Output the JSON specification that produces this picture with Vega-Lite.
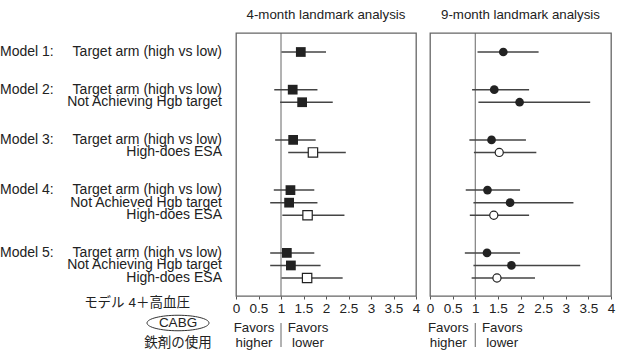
{
  "$schema": "https://vega.github.io/schema/vega-lite/v6.json",
  "background": "white",
  "padding": {"left": 0, "top": 7, "right": 0, "bottom": 0},
  "bounds": "flush",
  "spacing": 14,
  "config": {
    "font": "Liberation Sans, Noto Sans CJK JP",
    "view": {"stroke": null},
    "title": {"fontSize": 13.3, "fontWeight": "normal", "color": "#222", "offset": 11, "font": "Liberation Sans, Noto Sans CJK JP"},
    "text": {"font": "Liberation Sans, Noto Sans CJK JP", "fontSize": 14, "color": "#222"},
    "axisX": {"format": "~g", "domain": false, "ticks": true, "tickSize": 3, "tickColor": "#555", "tickWidth": 1, "labelFontSize": 13.5, "labelColor": "#222", "labelPadding": 2, "labelFlush": false, "labelOverlap": false, "grid": false}
  },
  "datasets": {
    "labels": [
      {"row": "m1a", "model": "Model 1:", "term": "Target arm (high vs low)"},
      {"row": "m2a", "model": "Model 2:", "term": "Target arm (high vs low)"},
      {"row": "m2b", "model": "", "term": "Not Achieving Hgb target"},
      {"row": "m3a", "model": "Model 3:", "term": "Target arm (high vs low)"},
      {"row": "m3b", "model": "", "term": "High-does ESA"},
      {"row": "m4a", "model": "Model 4:", "term": "Target arm (high vs low)"},
      {"row": "m4b", "model": "", "term": "Not Achieved Hgb target"},
      {"row": "m4c", "model": "", "term": "High-does ESA"},
      {"row": "m5a", "model": "Model 5:", "term": "Target arm (high vs low)"},
      {"row": "m5b", "model": "", "term": "Not Achieving Hgb target"},
      {"row": "m5c", "model": "", "term": "High-does ESA"}
    ],
    "notes": [
      {"line": "n1", "anchor": "left", "text": "モデル 4＋高血圧", "boxed": false},
      {"line": "n2", "anchor": "mid", "text": "CABG", "boxed": true},
      {"line": "n3", "anchor": "mid", "text": "鉄剤の使用", "boxed": false}
    ],
    "estimates": [
      {"landmark": "4-month", "row": "m1a", "kind": "target", "hr": 1.44, "lo": 1.01, "hi": 2.0},
      {"landmark": "4-month", "row": "m2a", "kind": "target", "hr": 1.26, "lo": 0.85, "hi": 1.81},
      {"landmark": "4-month", "row": "m2b", "kind": "hgb", "hr": 1.47, "lo": 0.98, "hi": 2.15},
      {"landmark": "4-month", "row": "m3a", "kind": "target", "hr": 1.27, "lo": 0.87, "hi": 1.77},
      {"landmark": "4-month", "row": "m3b", "kind": "esa", "hr": 1.71, "lo": 1.16, "hi": 2.44},
      {"landmark": "4-month", "row": "m4a", "kind": "target", "hr": 1.21, "lo": 0.84, "hi": 1.74},
      {"landmark": "4-month", "row": "m4b", "kind": "hgb", "hr": 1.18, "lo": 0.76, "hi": 1.81},
      {"landmark": "4-month", "row": "m4c", "kind": "esa", "hr": 1.59, "lo": 1.03, "hi": 2.41},
      {"landmark": "4-month", "row": "m5a", "kind": "target", "hr": 1.13, "lo": 0.76, "hi": 1.74},
      {"landmark": "4-month", "row": "m5b", "kind": "hgb", "hr": 1.22, "lo": 0.76, "hi": 1.88},
      {"landmark": "4-month", "row": "m5c", "kind": "esa", "hr": 1.58, "lo": 1.01, "hi": 2.37},
      {"landmark": "9-month", "row": "m1a", "kind": "target", "hr": 1.62, "lo": 1.05, "hi": 2.4},
      {"landmark": "9-month", "row": "m2a", "kind": "target", "hr": 1.42, "lo": 0.93, "hi": 2.19},
      {"landmark": "9-month", "row": "m2b", "kind": "hgb", "hr": 1.98, "lo": 1.07, "hi": 3.54},
      {"landmark": "9-month", "row": "m3a", "kind": "target", "hr": 1.36, "lo": 0.87, "hi": 2.12},
      {"landmark": "9-month", "row": "m3b", "kind": "esa", "hr": 1.53, "lo": 0.97, "hi": 2.35},
      {"landmark": "9-month", "row": "m4a", "kind": "target", "hr": 1.27, "lo": 0.79, "hi": 1.99},
      {"landmark": "9-month", "row": "m4b", "kind": "hgb", "hr": 1.77, "lo": 0.96, "hi": 3.17},
      {"landmark": "9-month", "row": "m4c", "kind": "esa", "hr": 1.41, "lo": 0.88, "hi": 2.19},
      {"landmark": "9-month", "row": "m5a", "kind": "target", "hr": 1.26, "lo": 0.77, "hi": 1.99},
      {"landmark": "9-month", "row": "m5b", "kind": "hgb", "hr": 1.8, "lo": 0.96, "hi": 3.32},
      {"landmark": "9-month", "row": "m5c", "kind": "esa", "hr": 1.48, "lo": 0.92, "hi": 2.32}
    ],
    "reference": [{"hr": 1}],
    "favors": [
      {"side": "higher", "line": "top", "text": "Favors"},
      {"side": "higher", "line": "bottom", "text": "higher"},
      {"side": "lower", "line": "top", "text": "Favors"},
      {"side": "lower", "line": "bottom", "text": "lower"}
    ]
  },
  "hconcat": [
    {
      "width": 222,
      "height": 263,
      "layer": [
        {
          "data": {"name": "labels"},
          "encoding": {
            "y": {"field": "row", "type": "nominal", "axis": null,
              "scale": {"type": "point", "padding": 0, "range": [19, 245],
                "domain": ["m1a", "g1a", "g1b", "m2a", "m2b", "g2a", "g2b", "m3a", "m3b", "g3a", "g3b", "m4a", "m4b", "m4c", "g4a", "g4b", "m5a", "m5b", "m5c"]}}
          },
          "layer": [
            {
              "transform": [{"filter": "datum.model != ''"}],
              "mark": {"type": "text", "align": "left", "baseline": "middle", "fontSize": 14},
              "encoding": {
                "x": {"datum": "model", "type": "nominal", "axis": null,
                  "scale": {"type": "point", "domain": ["model", "term"], "range": [0, 222], "padding": 0}},
                "text": {"field": "model"}
              }
            },
            {
              "mark": {"type": "text", "align": "right", "baseline": "middle", "fontSize": 14},
              "encoding": {
                "x": {"datum": "term", "type": "nominal", "axis": null,
                  "scale": {"type": "point", "domain": ["model", "term"], "range": [0, 222], "padding": 0}},
                "text": {"field": "term"}
              }
            }
          ]
        },
        {
          "data": {"name": "notes"},
          "encoding": {
            "y": {"field": "line", "type": "nominal", "axis": null,
              "scale": {"type": "point", "domain": ["n1", "n2", "n3"], "range": [270, 310], "padding": 0}},
            "x": {"field": "anchor", "type": "nominal", "axis": null,
              "scale": {"type": "point", "domain": ["left", "mid"], "range": [137, 178], "padding": 0}}
          },
          "layer": [
            {
              "transform": [{"filter": "datum.boxed"}],
              "mark": {"type": "point", "shape": "M-1,0A1,0.25,0,1,1,1,0A1,0.25,0,1,1,-1,0Z", "size": 3844, "filled": false, "stroke": "#333", "strokeWidth": 1, "opacity": 1}
            },
            {
              "mark": {"type": "text", "align": "center", "baseline": "middle", "fontSize": 13.5},
              "encoding": {"text": {"field": "text"}}
            }
          ]
        }
      ],
      "resolve": {"scale": {"x": "independent", "y": "independent"}}
    },
    {
      "width": 180,
      "height": 263,
      "view": {"stroke": "#666", "strokeWidth": 1.3},
      "title": {"text": "4-month landmark analysis"},
      "layer": [
        {
          "data": {"name": "reference"},
          "mark": {"type": "rule", "color": "#666", "strokeWidth": 1},
          "encoding": {
            "x": {"field": "hr", "type": "quantitative", "title": null,
              "axis": {"values": [0, 0.5, 1, 1.5, 2, 2.5, 3, 3.5, 4]},
              "scale": {"domain": [0, 4], "nice": false, "zero": false}}
          }
        },
        {
          "data": {"name": "estimates"},
          "transform": [{"filter": "datum.landmark == '4-month'"}],
          "encoding": {
            "y": {"field": "row", "type": "nominal", "axis": null,
              "scale": {"type": "point", "padding": 0, "range": [19, 245],
                "domain": ["m1a", "g1a", "g1b", "m2a", "m2b", "g2a", "g2b", "m3a", "m3b", "g3a", "g3b", "m4a", "m4b", "m4c", "g4a", "g4b", "m5a", "m5b", "m5c"]}}
          },
          "layer": [
            {
              "mark": {"type": "rule", "color": "#444", "strokeWidth": 1.5},
              "encoding": {"x": {"field": "lo", "type": "quantitative", "title": null, "axis": {"values": [0, 0.5, 1, 1.5, 2, 2.5, 3, 3.5, 4]}}, "x2": {"field": "hi", "title": null}}
            },
            {
              "transform": [{"filter": "datum.kind != 'esa'"}],
              "mark": {"type": "point", "shape": "square", "filled": true, "color": "#222", "size": 95, "opacity": 1},
              "encoding": {"x": {"field": "hr", "type": "quantitative", "title": null, "axis": {"values": [0, 0.5, 1, 1.5, 2, 2.5, 3, 3.5, 4]}}}
            },
            {
              "transform": [{"filter": "datum.kind == 'esa'"}],
              "mark": {"type": "point", "shape": "square", "filled": true, "fill": "white", "stroke": "#222", "strokeWidth": 1.2, "size": 88, "opacity": 1},
              "encoding": {"x": {"field": "hr", "type": "quantitative", "title": null, "axis": {"values": [0, 0.5, 1, 1.5, 2, 2.5, 3, 3.5, 4]}}}
            }
          ]
        },
        {
          "data": {"name": "favors"},
          "encoding": {
            "y": {"field": "line", "type": "nominal", "axis": null,
              "scale": {"type": "point", "domain": ["top", "bottom"], "range": [294.5, 309.5], "padding": 0}}
          },
          "layer": [
            {
              "transform": [{"filter": "datum.side == 'higher' && datum.line == 'top'"}],
              "mark": {"type": "rule", "color": "#666", "strokeWidth": 1, "yOffset": -4.5, "y2Offset": 4.5},
              "encoding": {"x": {"datum": 1, "type": "quantitative", "title": null, "axis": {"values": [0, 0.5, 1, 1.5, 2, 2.5, 3, 3.5, 4]}}, "y2": {"datum": "bottom"}}
            },
            {
              "transform": [{"filter": "datum.side == 'higher'"}],
              "mark": {"type": "text", "align": "center", "baseline": "middle", "fontSize": 13.3, "dx": -27},
              "encoding": {"x": {"datum": 1, "type": "quantitative", "title": null, "axis": {"values": [0, 0.5, 1, 1.5, 2, 2.5, 3, 3.5, 4]}}, "text": {"field": "text"}}
            },
            {
              "transform": [{"filter": "datum.side == 'lower'"}],
              "mark": {"type": "text", "align": "center", "baseline": "middle", "fontSize": 13.3, "dx": 27},
              "encoding": {"x": {"datum": 1, "type": "quantitative", "title": null, "axis": {"values": [0, 0.5, 1, 1.5, 2, 2.5, 3, 3.5, 4]}}, "text": {"field": "text"}}
            }
          ]
        }
      ],
      "resolve": {"scale": {"y": "independent"}}
    },
    {
      "width": 181,
      "height": 263,
      "view": {"stroke": "#666", "strokeWidth": 1.3},
      "title": {"text": "9-month landmark analysis"},
      "layer": [
        {
          "data": {"name": "reference"},
          "mark": {"type": "rule", "color": "#666", "strokeWidth": 1},
          "encoding": {
            "x": {"field": "hr", "type": "quantitative", "title": null,
              "axis": {"values": [0, 0.5, 1, 1.5, 2, 2.5, 3, 3.5, 4]},
              "scale": {"domain": [0, 4], "nice": false, "zero": false}}
          }
        },
        {
          "data": {"name": "estimates"},
          "transform": [{"filter": "datum.landmark == '9-month'"}],
          "encoding": {
            "y": {"field": "row", "type": "nominal", "axis": null,
              "scale": {"type": "point", "padding": 0, "range": [19, 245],
                "domain": ["m1a", "g1a", "g1b", "m2a", "m2b", "g2a", "g2b", "m3a", "m3b", "g3a", "g3b", "m4a", "m4b", "m4c", "g4a", "g4b", "m5a", "m5b", "m5c"]}}
          },
          "layer": [
            {
              "mark": {"type": "rule", "color": "#444", "strokeWidth": 1.5},
              "encoding": {"x": {"field": "lo", "type": "quantitative", "title": null, "axis": {"values": [0, 0.5, 1, 1.5, 2, 2.5, 3, 3.5, 4]}}, "x2": {"field": "hi", "title": null}}
            },
            {
              "transform": [{"filter": "datum.kind != 'esa'"}],
              "mark": {"type": "point", "shape": "circle", "filled": true, "color": "#222", "size": 76, "opacity": 1},
              "encoding": {"x": {"field": "hr", "type": "quantitative", "title": null, "axis": {"values": [0, 0.5, 1, 1.5, 2, 2.5, 3, 3.5, 4]}}}
            },
            {
              "transform": [{"filter": "datum.kind == 'esa'"}],
              "mark": {"type": "point", "shape": "circle", "filled": true, "fill": "white", "stroke": "#222", "strokeWidth": 1.2, "size": 66, "opacity": 1},
              "encoding": {"x": {"field": "hr", "type": "quantitative", "title": null, "axis": {"values": [0, 0.5, 1, 1.5, 2, 2.5, 3, 3.5, 4]}}}
            }
          ]
        },
        {
          "data": {"name": "favors"},
          "encoding": {
            "y": {"field": "line", "type": "nominal", "axis": null,
              "scale": {"type": "point", "domain": ["top", "bottom"], "range": [294.5, 309.5], "padding": 0}}
          },
          "layer": [
            {
              "transform": [{"filter": "datum.side == 'higher' && datum.line == 'top'"}],
              "mark": {"type": "rule", "color": "#666", "strokeWidth": 1, "yOffset": -4.5, "y2Offset": 4.5},
              "encoding": {"x": {"datum": 1, "type": "quantitative", "title": null, "axis": {"values": [0, 0.5, 1, 1.5, 2, 2.5, 3, 3.5, 4]}}, "y2": {"datum": "bottom"}}
            },
            {
              "transform": [{"filter": "datum.side == 'higher'"}],
              "mark": {"type": "text", "align": "center", "baseline": "middle", "fontSize": 13.3, "dx": -27},
              "encoding": {"x": {"datum": 1, "type": "quantitative", "title": null, "axis": {"values": [0, 0.5, 1, 1.5, 2, 2.5, 3, 3.5, 4]}}, "text": {"field": "text"}}
            },
            {
              "transform": [{"filter": "datum.side == 'lower'"}],
              "mark": {"type": "text", "align": "center", "baseline": "middle", "fontSize": 13.3, "dx": 27},
              "encoding": {"x": {"datum": 1, "type": "quantitative", "title": null, "axis": {"values": [0, 0.5, 1, 1.5, 2, 2.5, 3, 3.5, 4]}}, "text": {"field": "text"}}
            }
          ]
        }
      ],
      "resolve": {"scale": {"y": "independent"}}
    }
  ]
}
